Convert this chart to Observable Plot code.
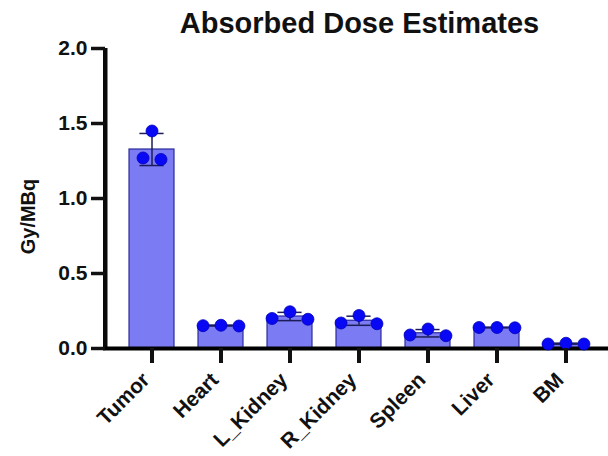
<!DOCTYPE html>
<html><head><meta charset="utf-8">
<script src="https://cdn.jsdelivr.net/npm/d3@7"></script>
<script src="https://cdn.jsdelivr.net/npm/@observablehq/plot@0.6"></script>
<style>
body{margin:0;background:#fff;font-family:"Liberation Sans",Arial,sans-serif;}
#title{width:608px;box-sizing:border-box;padding-left:111px;padding-top:10px;height:37px;line-height:27px;font-size:29px;font-weight:bold;text-align:center;color:#111;white-space:nowrap;}
</style></head><body>
<div id="title">Absorbed Dose Estimates</div>
<div id="chart"></div>
<script>
// Categories
const organs = ["Tumor", "Heart", "L_Kidney", "R_Kidney", "Spleen", "Liver", "BM"];
// Replicate values (Gy/MBq), in left / middle / right order as drawn
const replicateA = [1.27, 0.152, 0.200, 0.170, 0.090, 0.140, 0.030];
const replicateB = [1.45, 0.155, 0.245, 0.220, 0.130, 0.140, 0.035];
const replicateC = [1.26, 0.150, 0.195, 0.165, 0.085, 0.138, 0.030];
// Y tick values
const yTicks = [0, 0.5, 1.0, 1.5, 2.0];

const reps = [replicateA, replicateB, replicateC];
const summary = organs.map((name, i) => {
  const vals = reps.map(r => r[i]);
  const mean = d3.mean(vals), sd = d3.deviation(vals);
  return {i, name, mean, lo: mean - sd, hi: mean + sd};
});

// GraphPad-like scatter: points whose values nearly overlap are spread side by side
const spread = 0.26, near = 0.06;
const points = [];
organs.forEach((name, i) => {
  const vals = reps.map(r => r[i]);
  const cluster = vals.map((_, k) => k);
  const find = k => cluster[k] === k ? k : (cluster[k] = find(cluster[k]));
  for (let a = 0; a < vals.length; a++)
    for (let b = a + 1; b < vals.length; b++)
      if (Math.abs(vals[a] - vals[b]) < near) cluster[find(b)] = find(a);
  const groups = d3.group(vals.map((v, k) => ({v, k})), d => find(d.k));
  for (const g of groups.values()) {
    g.forEach((d, j) => points.push({i, value: d.v, off: (j - (g.length - 1) / 2) * spread}));
  }
});

const half = 0.326, cap = 0.175;
const xMin = -0.674, xMax = 6.616;

const chart = Plot.plot({
  width: 608,
  height: 419,
  marginTop: 11,
  marginBottom: 108,
  marginLeft: 105,
  marginRight: 0,
  style: {fontFamily: "'Liberation Sans', Arial, sans-serif", color: "#111", background: "transparent", overflow: "visible"},
  x: {type: "linear", domain: [xMin, xMax]},
  y: {domain: [0, 2]},
  marks: [
    Plot.rectY(summary, {x1: d => d.i - half, x2: d => d.i + half, y: "mean", fill: "#7b7bf3", stroke: "#2b2b9c", strokeWidth: 1.2}),
    Plot.ruleX(summary, {x: "i", y1: "lo", y2: "hi", stroke: "#1c1c5a", strokeWidth: 1.5}),
    Plot.ruleY(summary, {y: "hi", x1: d => d.i - cap, x2: d => d.i + cap, stroke: "#1c1c5a", strokeWidth: 1.5}),
    Plot.ruleY(summary, {y: "lo", x1: d => d.i - cap, x2: d => d.i + cap, stroke: "#1c1c5a", strokeWidth: 1.5}),
    Plot.rect([xMin], {x1: d => d, x2: d => d, y1: () => 0, y2: () => 2, insetLeft: -2, insetRight: -2, fill: "#0a0a0a"}),
    Plot.ruleX([xMin], {stroke: "#0a0a0a", strokeWidth: 4}),
    Plot.ruleY([0], {stroke: "#000", strokeWidth: 4, strokeLinecap: "square"}),
    Plot.dot(points, {x: d => d.i + d.off, y: "value", r: 6, fill: "#0808f4", stroke: "#0000c0", strokeWidth: 0.8}),
    Plot.axisY({ticks: yTicks, tickFormat: d3.format(".1f"), tickSize: 14, tickPadding: 4, strokeWidth: 3.5, fontSize: 21, fontWeight: "bold", label: null}),
    Plot.axisX({ticks: d3.range(organs.length), tickFormat: () => "", tickSize: 15, strokeWidth: 4, label: null}),
    Plot.text(summary, {x: "i", y: () => 0, text: "name", rotate: -45, textAnchor: "end", lineAnchor: "middle", dx: -6, dy: 28, fontSize: 21, fontWeight: "bold", fill: "#111"}),
    Plot.text(["Gy/MBq"], {text: d => d, frameAnchor: "left", textAnchor: "middle", rotate: -90, dx: -77, dy: 18, fontSize: 20, fontWeight: "bold", fill: "#111"})
  ]
});
document.getElementById("chart").appendChild(chart);
</script>
</body></html>
